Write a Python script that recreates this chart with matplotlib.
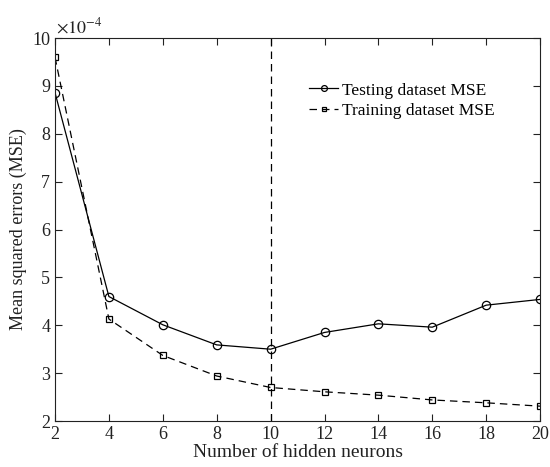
import matplotlib.pyplot as plt
from matplotlib.ticker import FuncFormatter
import numpy as np

plt.rcParams['font.family'] = 'Liberation Serif'
plt.rcParams['mathtext.fontset'] = 'stix'

neurons = [2, 4, 6, 8, 10, 12, 14, 16, 18, 20]
test_mse = np.array([8.86, 4.60, 4.01, 3.59, 3.50, 3.85, 4.03, 3.96, 4.42, 4.54]) * 1e-4
train_mse = np.array([9.60, 4.13, 3.37, 2.94, 2.70, 2.61, 2.54, 2.44, 2.38, 2.31]) * 1e-4
best_n = 10

fig = plt.figure(figsize=(5.5, 4.67), dpi=100)
ax = fig.add_axes([0.1, 0.0985, 0.882, 0.82])

ax.plot(neurons, test_mse, 'k-o', lw=0.9, ms=6, mfc='none', mew=0.9,
        label='Testing dataset MSE')
ax.plot(neurons, train_mse, 'k--s', lw=0.9, ms=4.5, mfc='none', mew=0.9,
        dashes=(6, 4), label='Training dataset MSE')
ax.axvline(best_n, color='k', ls='--', lw=0.9, dashes=(6, 4))

ax.set_xlim(2, 20)
ax.set_ylim(2e-4, 10e-4)
ax.set_xticks(range(2, 21, 2))
ax.set_yticks(np.arange(2, 11) * 1e-4)
ax.yaxis.set_major_formatter(FuncFormatter(lambda v, p: '%d' % round(v / 1e-4)))
ax.text(0.003, 1.003, r'$\times 10^{-4}$', transform=ax.transAxes,
        ha='left', va='bottom', fontsize=13, color='#222222')

ax.tick_params(direction='in', top=True, right=True, labelsize=13, length=5, width=0.8,
               colors='#222222')
for s in ax.spines.values():
    s.set_linewidth(0.8)
    s.set_color('#222222')

ax.set_xlabel('Number of hidden neurons', fontsize=14, labelpad=1, color='#222222')
ax.set_ylabel('Mean squared errors (MSE)', fontsize=13, labelpad=4, color='#222222')

ax.legend(loc='upper right', bbox_to_anchor=(0.938, 0.925), frameon=False,
          fontsize=12.5, handlelength=1.7, handletextpad=0.2, labelspacing=0.25,
          markerscale=0.7)

fig.savefig('out.png', dpi=100)
